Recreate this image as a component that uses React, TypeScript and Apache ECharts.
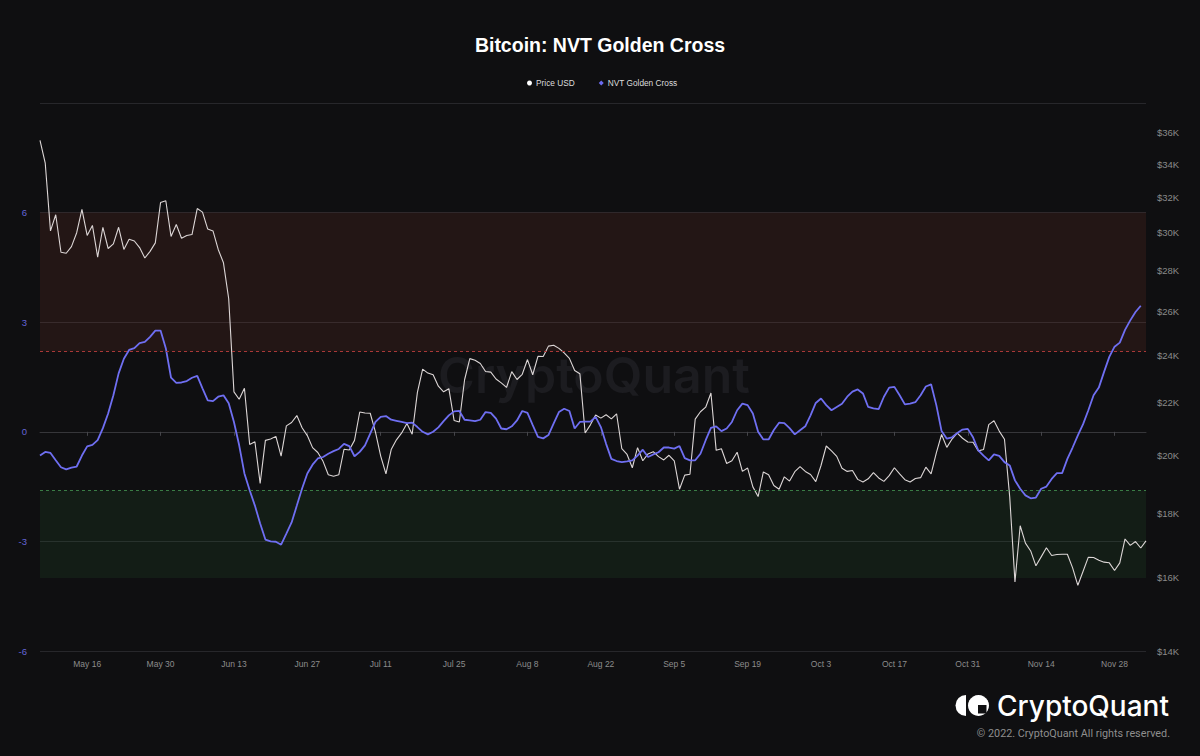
import React, { useEffect, useRef } from "react";
import * as echarts from "echarts";

// ---------- data ----------
const START_DATE = [2022, 4, 7]; // 2022-05-07 (month 0-based)

const PRICE_USD = [
  // May 7 - May 31
  35500, 34050, 30100, 31000, 28950, 28900, 29250, 30000, 31300, 29850, 30400, 28700, 30300, 29150, 29400, 30300, 29100, 29650, 29550, 29200, 28650, 29000, 29450, 31700, 31800,
  // Jun
  29800, 30450, 29700, 29850, 29900, 31350, 31150, 30200, 30100, 29100, 28400, 26600, 22450, 22150, 22600, 20400, 20500, 19000, 20550, 20600, 20700, 19970, 21100, 21230, 21500, 21030, 20730, 20280, 20100, 19780,
  // Jul
  19300, 19250, 19300, 20220, 20190, 20550, 21640, 21600, 21590, 20860, 19970, 19330, 20210, 20570, 20830, 21190, 20780, 22430, 23400, 23230, 23160, 22680, 22450, 22580, 21310, 21250, 22950, 23850, 23780, 23640, 23300,
  // Aug
  23270, 22980, 22820, 22630, 23290, 22960, 23180, 23810, 23160, 23950, 23940, 24400, 24440, 24300, 24100, 23860, 23340, 23200, 20830, 21140, 21520, 21400, 21530, 21370, 21570, 20240, 20030, 19550, 20280, 19800, 20050,
  // Sep
  20130, 19950, 19830, 20000, 19800, 18800, 19290, 19320, 21360, 21650, 21830, 22400, 20180, 20240, 19700, 19800, 20110, 19420, 19540, 18880, 18550, 19400, 19300, 18930, 18800, 19230, 19080, 19410, 19590, 19420,
  // Oct
  19310, 19060, 19630, 20340, 20160, 19960, 19530, 19420, 19450, 19140, 19050, 19160, 19380, 19190, 19070, 19270, 19550, 19330, 19130, 19050, 19170, 19200, 19570, 19330, 20090, 20770, 20290, 20600, 20820, 20630, 20490,
  // Nov
  20480, 20160, 20210, 21150, 21300, 20900, 20590, 18540, 15880, 17590, 17040, 16800, 16350, 16620, 16900, 16660, 16690, 16700, 16700, 16290, 15780, 16190, 16610, 16600, 16520, 16460, 16440, 16210, 16440, 17170,
  // Dec 1 - Dec 4
  16970, 17090, 16890, 17110,
];

const NVT_GOLDEN_CROSS = [
  -0.65, -0.55, -0.58, -0.78, -0.97, -1.03, -0.98, -0.95, -0.65, -0.4,
  -0.36, -0.23, 0.1, 0.5, 1.0, 1.6, 2.0, 2.24, 2.29, 2.43,
  2.46, 2.6, 2.77, 2.77, 2.29, 1.48, 1.34, 1.35, 1.39, 1.48,
  1.53, 1.19, 0.86, 0.84, 0.96, 1.0, 0.78, 0.27, -0.37, -1.14,
  -1.6, -2.02, -2.51, -2.95, -3.0, -3.01, -3.09, -2.79, -2.48, -2.02,
  -1.55, -1.14, -0.9, -0.73, -0.69, -0.6, -0.53, -0.47, -0.33, -0.39,
  -0.67, -0.55, -0.37, -0.05, 0.27, 0.41, 0.43, 0.33, 0.3, 0.27,
  0.24, 0.25, 0.13, 0.0, -0.07, 0.0, 0.12, 0.29, 0.45, 0.56,
  0.57, 0.33, 0.31, 0.29, 0.33, 0.54, 0.52, 0.36, 0.09, 0.07,
  0.15, 0.31, 0.57, 0.52, 0.18, -0.14, -0.18, -0.09, 0.23, 0.54,
  0.63, 0.57, 0.09, 0.27, 0.28, 0.28, 0.41, 0.13, -0.33, -0.74,
  -0.8, -0.83, -0.81, -0.78, -0.65, -0.49, -0.69, -0.62, -0.56, -0.43,
  -0.43, -0.46, -0.39, -0.72, -0.78, -0.78, -0.6, -0.23, 0.11, 0.15,
  0.02, 0.09, 0.27, 0.59, 0.77, 0.73, 0.5, 0.0, -0.21, -0.21,
  0.05, 0.25, 0.24, 0.1, -0.07, 0.04, 0.15, 0.45, 0.79, 0.91,
  0.73, 0.59, 0.68, 0.77, 0.96, 1.1, 1.16, 1.05, 0.68, 0.64,
  0.62, 0.96, 1.21, 1.23, 1.0, 0.75, 0.77, 0.81, 1.0, 1.24,
  1.3, 0.73, 0.02, -0.19, -0.15, -0.03, 0.06, 0.08, -0.15, -0.51,
  -0.65, -0.78, -0.62, -0.66, -0.83, -0.92, -1.33, -1.56, -1.74, -1.82,
  -1.8, -1.56, -1.5, -1.29, -1.13, -1.13, -0.74, -0.43, -0.1, 0.21,
  0.59, 1.0, 1.21, 1.64, 2.05, 2.33, 2.44, 2.79, 3.05, 3.28,
  3.45, null,
];

const X_TICK_LABELS = [
  "May 16", "May 30", "Jun 13", "Jun 27", "Jul 11", "Jul 25", "Aug 8", "Aug 22",
  "Sep 5", "Sep 19", "Oct 3", "Oct 17", "Oct 31", "Nov 14", "Nov 28",
];
const LEFT_MIN = -6;
const LEFT_MAX = 9;
const LEFT_INTERVAL = 3;
const RIGHT_MIN = 14000;
const RIGHT_MAX = 38000;
const RIGHT_TICKS = [14000, 16000, 18000, 20000, 22000, 24000, 26000, 28000, 30000, 32000, 34000, 36000];
const HIGH_BAND = [2.2, 6];
const LOW_BAND = [-4, -1.6];

const MONTHS = ["Jan", "Feb", "Mar", "Apr", "May", "Jun", "Jul", "Aug", "Sep", "Oct", "Nov", "Dec"];

function buildDates(n: number): string[] {
  const out: string[] = [];
  for (let i = 0; i < n; i++) {
    const d = new Date(Date.UTC(START_DATE[0], START_DATE[1], START_DATE[2] + i));
    out.push(MONTHS[d.getUTCMonth()] + " " + d.getUTCDate());
  }
  return out;
}

const BG = "#0f0f11";
const FONT = "Liberation Sans, Arial, sans-serif";

export default function App() {
  const ref = useRef<HTMLDivElement>(null);

  useEffect(() => {
    if (!ref.current) return;
    const chart = echarts.init(ref.current, undefined, { renderer: "svg" });
    const dates = buildDates(PRICE_USD.length);
    const tickSet = new Set(X_TICK_LABELS);
    const showTick = (_i: number, v: string) => tickSet.has(v);
    const log = (v: number) => Math.log10(v);

    chart.setOption({
      animation: false,
      backgroundColor: BG,
      title: {
        text: "Bitcoin: NVT Golden Cross",
        left: "center",
        top: 35,
        padding: 0,
        textStyle: {
          color: "#ffffff",
          fontSize: 19.5,
          fontWeight: "bold",
          fontFamily: FONT,
        },
      },
      legend: {
        top: 79,
        left: 527,
        padding: 0,
        itemGap: 24,
        itemWidth: 5,
        itemHeight: 5,
        textStyle: { color: "#dddddd", fontSize: 8.3, fontFamily: FONT, padding: [0, 0, 0, -1] },
        data: [
          { name: "Price USD", icon: "circle", itemStyle: { color: "#ffffff" } },
          { name: "NVT Golden Cross", icon: "diamond", itemStyle: { color: "#6b6bf0" } },
        ],
      },
      grid: { left: 40, right: 54, top: 103, bottom: 105 },
      xAxis: {
        type: "category",
        boundaryGap: false,
        data: dates,
        axisLine: { lineStyle: { color: "#36363a", width: 1 } },
        axisTick: { show: true, interval: showTick, length: 4, lineStyle: { color: "#45454a" } },
        axisLabel: {
          interval: showTick,
          color: "#8c8c8c",
          fontSize: 8.5,
          margin: 8,
          fontFamily: FONT,
        },
        splitLine: { show: false },
      },
      yAxis: [
        {
          type: "value",
          position: "left",
          min: LEFT_MIN,
          max: LEFT_MAX,
          interval: LEFT_INTERVAL,
          axisLine: { show: false },
          axisTick: { show: false },
          axisLabel: {
            color: "#6565d6",
            fontSize: 9.5,
            margin: 13,
            fontFamily: FONT,
            formatter: (v: number) => (v === LEFT_MAX ? "" : String(v)),
          },
          splitLine: { lineStyle: { color: "#27272b", width: 1 } },
        },
        {
          type: "value",
          position: "right",
          min: log(RIGHT_MIN),
          max: log(RIGHT_MAX),
          axisLine: { show: false },
          axisTick: { show: false },
          splitLine: { show: false },
          axisLabel: {
            customValues: RIGHT_TICKS.map(log),
            color: "#8a8a8a",
            fontSize: 9.5,
            margin: 11,
            fontFamily: FONT,
            formatter: (v: number) => "$" + Math.round(Math.pow(10, v) / 1000) + "K",
          },
        },
      ],
      graphic: [
        {
          type: "text",
          z: 0,
          silent: true,
          x: 594,
          y: 375,
          style: {
            text: "CryptoQuant",
            fill: "#1c1c20",
            fontSize: 50,
            fontWeight: 600,
            fontFamily: "Inter, sans-serif",
            textAlign: "center",
            textVerticalAlign: "middle",
          },
        },
        {
          type: "sector",
          silent: true,
          shape: { cx: 966, cy: 705.5, r: 10.5, startAngle: Math.PI / 2, endAngle: Math.PI * 1.5 },
          style: { fill: "#ffffff" },
        },
        {
          type: "circle",
          silent: true,
          shape: { cx: 978.5, cy: 705.5, r: 10.5 },
          style: { fill: "#ffffff" },
        },
        {
          type: "rect",
          silent: true,
          shape: { x: 978, y: 705, width: 8.5, height: 8.5 },
          style: { fill: BG },
        },
        {
          type: "text",
          silent: true,
          x: 1169,
          y: 706,
          style: {
            text: "CryptoQuant",
            fill: "#ffffff",
            fontSize: 28,
            fontWeight: 500,
            fontFamily: "Inter, sans-serif",
            textAlign: "right",
            textVerticalAlign: "middle",
          },
        },
        {
          type: "text",
          silent: true,
          x: 1170,
          y: 733,
          style: {
            text: "© 2022. CryptoQuant All rights reserved.",
            fill: "#8e8e8e",
            fontSize: 10.8,
            fontFamily: "Roboto, sans-serif",
            textAlign: "right",
            textVerticalAlign: "middle",
          },
        },
      ],
      series: [
        {
          name: "bands",
          type: "line",
          data: [],
          yAxisIndex: 0,
          silent: true,
          z: 1,
          markArea: {
            silent: true,
            data: [
              [{ yAxis: HIGH_BAND[1], itemStyle: { color: "rgba(182,73,59,0.12)" } }, { yAxis: HIGH_BAND[0] }],
              [{ yAxis: LOW_BAND[1], itemStyle: { color: "rgba(48,132,67,0.12)" } }, { yAxis: LOW_BAND[0] }],
            ],
          },
          markLine: {
            silent: true,
            symbol: "none",
            label: { show: false },
            data: [
              { yAxis: HIGH_BAND[0], lineStyle: { color: "#a83838", type: [3, 3], width: 1, opacity: 1 } },
              { yAxis: LOW_BAND[1], lineStyle: { color: "#3a7c45", type: [3, 3], width: 1, opacity: 1 } },
            ],
          },
        },
        {
          name: "Price USD",
          type: "line",
          yAxisIndex: 1,
          data: PRICE_USD.map(log),
          showSymbol: false,
          symbol: "circle",
          z: 2,
          lineStyle: { color: "#dcd6d6", width: 1.1 },
          itemStyle: { color: "#ffffff" },
        },
        {
          name: "NVT Golden Cross",
          type: "line",
          yAxisIndex: 0,
          data: NVT_GOLDEN_CROSS,
          showSymbol: false,
          symbol: "diamond",
          z: 3,
          lineStyle: { color: "#6f6ff2", width: 1.8 },
          itemStyle: { color: "#6b6bf0" },
        },
      ],
    });

    return () => chart.dispose();
  }, []);

  return (
    <div
      ref={ref}
      style={{ position: "fixed", left: 0, top: 0, width: 1200, height: 756, background: BG }}
    />
  );
}
